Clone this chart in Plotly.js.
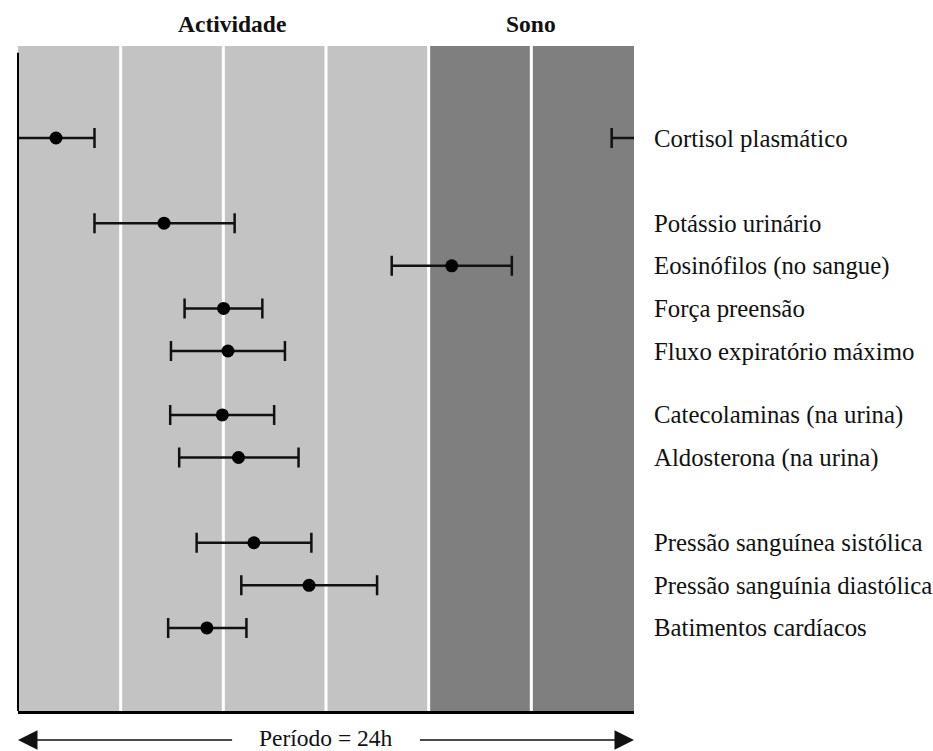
<!DOCTYPE html>
<html>
<head>
<meta charset="utf-8">
<script src="https://cdn.plot.ly/plotly-3.0.1.min.js"></script>
<style>html,body{margin:0;padding:0;background:#fff;}#chart{width:933px;height:751px;}</style>
</head>
<body>
<div id="chart"></div>
<script>
// ---- data ----
const names = [
  "Cortisol plasmático",
  "Potássio urinário",
  "Eosinófilos (no sangue)",
  "Força preensão",
  "Fluxo expiratório máximo",
  "Catecolaminas (na urina)",
  "Aldosterona (na urina)",
  "Pressão sanguínea sistólica",
  "Pressão sanguínia diastólica",
  "Batimentos cardíacos"
];
const rowIndex = [0, 2, 3, 4, 5, 6.5, 7.5, 9.5, 10.5, 11.5];
const peakHour = [1.48, 5.69, 16.90, 8.01, 8.18, 7.96, 8.59, 9.19, 11.34, 7.36];
const lowHour  = [-0.87, 2.98, 14.56, 6.49, 5.96, 5.93, 6.28, 6.96, 8.70, 5.85];
const highHour = [2.98, 8.44, 19.24, 9.52, 10.40, 9.98, 10.93, 11.43, 13.99, 8.90];
const period = 24;
const phaseNames = ["Actividade", "Sono"];
const phaseStart = [0, 16];
const phaseEnd = [16, 24];
const phaseColors = ["#c3c3c3", "#7f7f7f"];
const gridHours = [4, 8, 12, 16, 20];
const periodLabel = "Período = 24h";

// ---- build ----
const errPlus = peakHour.map((p, i) => highHour[i] - p);
const errMinus = peakHour.map((p, i) => p - lowHour[i]);

const errStyle = (plus, minus) => ({
  type: "data", symmetric: false, array: plus, arrayminus: minus,
  color: "#111", thickness: 2.5, width: 10
});

function markTrace(shift) {
  return {
    type: "scatter", mode: "markers",
    x: peakHour.map(p => p + shift), y: rowIndex,
    marker: {color: "#000", size: 13},
    error_x: errStyle(errPlus, errMinus),
    cliponaxis: true, hoverinfo: "skip", showlegend: false
  };
}
// main copy plus wrapped copies (bars that cross the 24h boundary)
const traces = [markTrace(0), markTrace(period), markTrace(-period)];

const shapes = [];
phaseStart.forEach((s, i) => {
  shapes.push({type: "rect", xref: "x", yref: "paper", x0: s, x1: phaseEnd[i], y0: 0, y1: 1,
    fillcolor: phaseColors[i], line: {width: 0}, layer: "below"});
});
gridHours.forEach(h => {
  shapes.push({type: "line", xref: "x", yref: "paper", x0: h, x1: h, y0: 0, y1: 1,
    line: {color: "#ffffff", width: 3}, layer: "below"});
});
// left axis line
shapes.push({type: "line", xref: "paper", yref: "paper", x0: 0, x1: 0, y0: 0, y1: 0.99,
  line: {color: "#000", width: 2}});

const serif = "Liberation Serif";
const font = {family: serif, color: "#111", size: 24.8};
const annotations = [];
names.forEach((n, i) => {
  annotations.push({xref: "paper", yref: "y", x: 1, y: rowIndex[i], xanchor: "left", yanchor: "middle",
    xshift: 18, text: n, showarrow: false, font: font});
});
phaseNames.forEach((n, i) => {
  annotations.push({xref: "x", yref: "paper", x: (phaseStart[i] + phaseEnd[i]) / 2 + (i === 0 ? 0.35 : 0),
    y: 1, yanchor: "middle", yshift: 22, text: "<b>" + n + "</b>", showarrow: false,
    font: {family: serif, color: "#111", size: 23.5}});
});
annotations.push({xref: "x", yref: "paper", x: period / 2, y: 0, yanchor: "middle", yshift: -27,
  text: periodLabel, showarrow: false, font: {family: serif, color: "#111", size: 23.5}});
annotations.push({xref: "x", yref: "paper", x: 0, y: 0, yshift: -29, axref: "x", ax: 8.4, ayref: "pixel", ay: 0,
  text: "", showarrow: true, arrowhead: 2, arrowsize: 2.6, arrowwidth: 1.5, arrowcolor: "#111"});
annotations.push({xref: "x", yref: "paper", x: period, y: 0, yshift: -29, axref: "x", ax: 15.6, ayref: "pixel", ay: 0,
  text: "", showarrow: true, arrowhead: 2, arrowsize: 2.6, arrowwidth: 1.5, arrowcolor: "#111"});

const layout = {
  width: 933, height: 751,
  margin: {l: 18, r: 299, t: 46, b: 40},
  paper_bgcolor: "#ffffff", plot_bgcolor: "#ffffff",
  xaxis: {range: [0, period], showgrid: false, zeroline: false, showticklabels: false, ticks: "",
    showline: true, linecolor: "#000", linewidth: 2.5, fixedrange: true},
  yaxis: {range: [13.45, -2.16], showgrid: false, zeroline: false, showticklabels: false, ticks: "",
    showline: false, fixedrange: true},
  shapes: shapes,
  annotations: annotations,
  showlegend: false
};

Plotly.newPlot("chart", traces, layout, {displayModeBar: false, staticPlot: true});
</script>
</body>
</html>
